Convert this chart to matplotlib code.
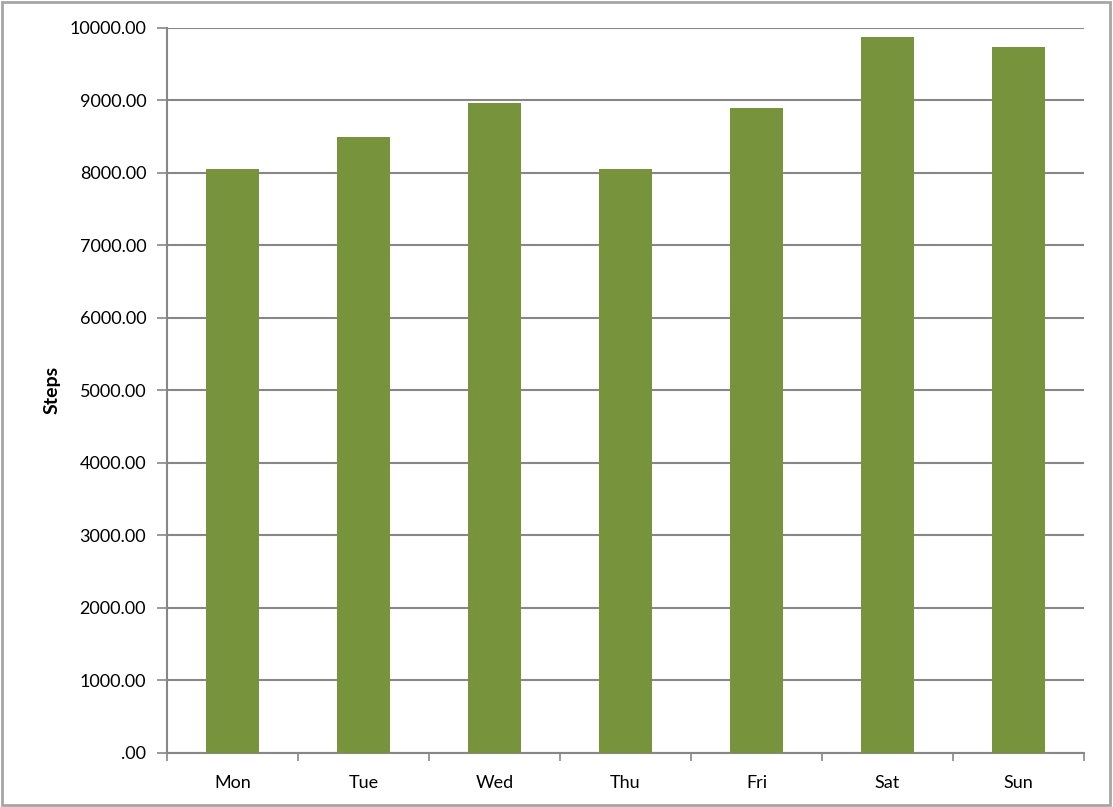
import matplotlib.pyplot as plt
from matplotlib.ticker import FuncFormatter, FixedLocator
from matplotlib.patches import Rectangle
import numpy as np

days = ['Mon', 'Tue', 'Wed', 'Thu', 'Fri', 'Sat', 'Sun']
steps = [8060, 8490, 8960, 8060, 8890, 9873, 9735]

plt.rcParams['font.family'] = ['Lato', 'DejaVu Sans']

fig = plt.figure(figsize=(11.13, 8.07), dpi=100)
ax = fig.add_axes([167 / 1113, 1 - 752.5 / 807, (1084 - 167) / 1113, (752.5 - 28) / 807])

x = np.arange(len(days))
ax.bar(x, steps, width=0.40, color='#77933C', zorder=3)

ax.set_xlim(-0.5, len(days) - 0.5)
ax.set_ylim(0, 10000)
ax.set_yticks(np.arange(0, 10001, 1000))
ax.yaxis.set_major_formatter(FuncFormatter(lambda v, p: '.00' if v == 0 else f'{v:.2f}'))
ax.yaxis.grid(True, color='#878787', linewidth=1.5, zorder=0)

# category labels centred, ticks at the category boundaries
ax.set_xticks(x)
ax.set_xticklabels(days)
ax.tick_params(axis='x', length=0, pad=16, labelsize=13)
ax.xaxis.set_minor_locator(FixedLocator(np.arange(-0.5, len(days), 1)))
ax.tick_params(axis='x', which='minor', length=6, width=1.2, color='#878787')
ax.tick_params(axis='y', length=7, width=1.2, color='#878787', labelsize=13, pad=8)

for side in ['top', 'right']:
    ax.spines[side].set_visible(False)
for side in ['left', 'bottom']:
    ax.spines[side].set_color('#878787')
    ax.spines[side].set_linewidth(1.5)

ax.set_ylabel('Steps', fontsize=14, fontweight='bold', labelpad=6)

fig.patches.append(Rectangle((0.002, 0.003), 0.995, 0.994, transform=fig.transFigure,
                             fill=False, edgecolor='#a6a6a6', linewidth=2))

plt.savefig('out.png', dpi=100)
